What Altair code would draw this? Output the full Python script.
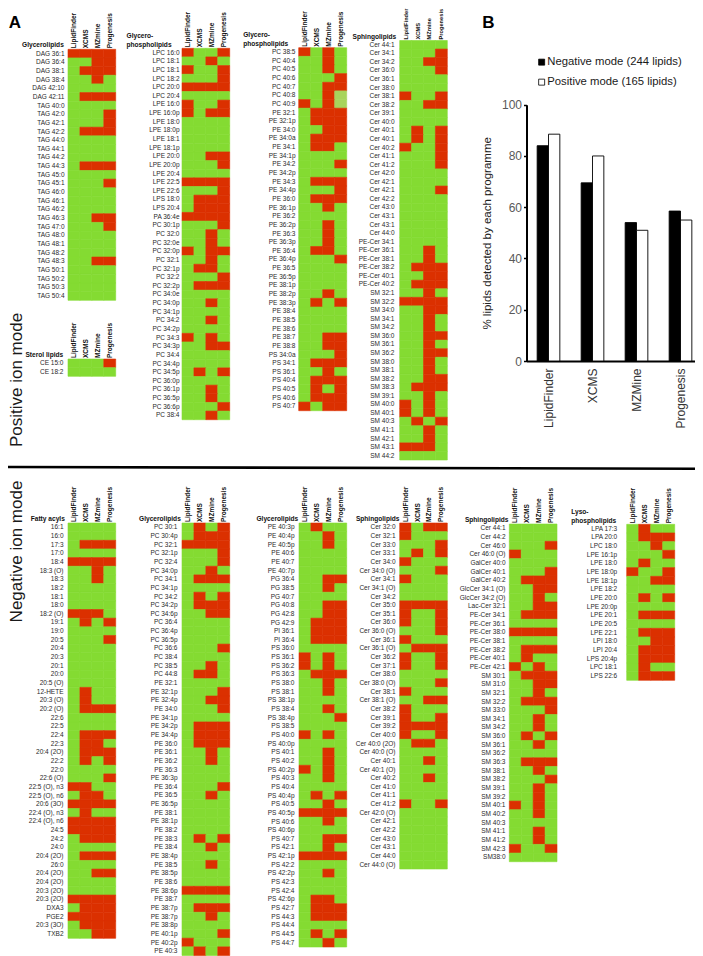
import altair as alt
import pandas as pd

PROGRAMMES = ["LipidFinder", "XCMS", "MZmine", "Progenesis"]
GREEN, RED, PALE = "#84DB32", "#DB3000", "#A8D45C"

glycerolipids_pos = """DAG 36:1=1111;DAG 36:4=0011;DAG 38:1=0111;DAG 38:4=0010;DAG 42:10=0000;DAG 42:11=0111;TAG 40:0=0000;TAG 42:0=0001;TAG 42:1=0001;TAG 42:2=0111;TAG 44:0=0000;TAG 44:1=0000;TAG 44:2=0000;TAG 44:3=0111;TAG 45:0=0000;TAG 45:1=0001;TAG 46:0=0000;TAG 46:1=0000;TAG 46:2=0000;TAG 46:3=0011;TAG 47:0=0001;TAG 48:0=0000;TAG 48:1=0000;TAG 48:2=0000;TAG 48:3=0011;TAG 50:1=0000;TAG 50:2=0000;TAG 50:3=0000;TAG 50:4=0000"""
sterol_pos = """CE  15:0=0001;CE  18:2=0000"""
phospho_pos_a = """LPC 16:0=1001;LPC 18:1=0010;LPC 18:1=1001;LPC 18:2=0001;LPC 20:0=1111;LPC 20:4=0000;LPE 16:0=1001;LPE 16:0p=1011;LPE 18:0=0000;LPE 18:0p=0000;LPE 18:1=0000;LPE 18:1p=0000;LPE 20:0=0011;LPE 20:0p=0001;LPE 20:4=0000;LPE 22:5=1111;LPE 22:6=0001;LPS 18:0=0111;LPS 20:4=0111;PA 36:4e=1111;PC 30:1p=0001;PC 32:0=0010;PC 32:0e=0010;PC 32:0p=1011;PC 32:1=0010;PC 32:1p=0110;PC 32:2=0001;PC 32:2p=0111;PC 34:0e=0000;PC 34:0p=0010;PC 34:1p=0000;PC 34:2=0010;PC 34:2p=0000;PC 34:3=1010;PC 34:3p=0011;PC 34:4=0000;PC 34:4p=0000;PC 34:5p=0101;PC 36:0p=0000;PC 36:1p=0010;PC 36:5p=0010;PC 36:6p=0001;PC 38:4=0010"""
phospho_pos_b = """PC 38:5=1010;PC 40:4=0010;PC 40:5=0010;PC 40:6=0001;PC 40:7=0011;PC 40:8=0012;PC 40:9=1012;PE 32:1=0111;PE 32:1p=0111;PE 34:0=0011;PE 34:0a=0111;PE 34:1=0110;PE 34:1p=0000;PE 34:2=0001;PE 34:2p=0000;PE 34:3=0111;PE 34:4p=0001;PE 36:0=0111;PE 36:1p=0010;PE 36:2=0000;PE 36:2p=0010;PE 36:3=0010;PE 36:3p=0010;PE 36:4=0110;PE 36:4p=0001;PE 36:5=0000;PE 36:5p=0000;PE 38:1p=0000;PE 38:2p=0010;PE 38:3p=0101;PE 38:4=0000;PE 38:5=0000;PE 38:6=0000;PE 38:7=0011;PE 38:8=0011;PS 34:0a=0001;PS 34:1=0111;PS 36:1=0010;PS 40:4=0111;PS 40:5=0101;PS 40:6=0111;PS 40:7=1011"""
sphingo_pos = """Cer 44:1=0000;Cer 34:1=0001;Cer 34:2=0011;Cer 36:0=0001;Cer 36:1=0000;Cer 38:0=0000;Cer 38:1=1001;Cer 38:2=0011;Cer 39:1=0000;Cer 40:0=0000;Cer 40:1=0101;Cer 40:1=0101;Cer 40:2=1001;Cer 41:1=0001;Cer 41:2=0001;Cer 42:0=0000;Cer 42:1=0000;Cer 42:1=0001;Cer 42:2=0000;Cer 43:0=0000;Cer 43:1=0000;Cer 43:1=0000;Cer 44:0=0000;PE-Cer 34:1=0000;PE-Cer 36:1=0010;PE-Cer 38:1=0010;PE-Cer 38:2=0111;PE-Cer 40:1=0011;PE-Cer 40:2=0111;SM 32:1=0010;SM 32:2=1111;SM 34:0=0011;SM 34:1=0010;SM 34:2=0010;SM 36:0=0011;SM 36:1=0010;SM 36:2=0011;SM 38:0=0010;SM 38:1=0010;SM 38:2=0011;SM 38:3=0111;SM 39:1=0010;SM 40:0=1010;SM 40:1=1010;SM 40:3=0101;SM 41:1=0010;SM 42:1=0010;SM 43:1=1110;SM 44:2=0000"""
fatty_neg = """16:1=0000;16:0=0000;17:3=0111;17:0=0000;18:4=1111;18:3 (O)=0010;18:3=0010;18:2=0000;18:1=0000;18:0=0000;18:2 (O)=1110;19:1=0101;19:0=0000;20:5=0001;20:4=0000;20:3=0000;20:1=0000;20:0=0000;20:5 (O)=0000;12-HETE=0100;20:3 (O)=0100;20:2 (O)=0111;22:6=0000;22:5=0000;22:4=0111;22:3=0110;20:4 (2O)=0111;22:2=0101;22:0=0000;22:6 (O)=0001;22:5 (O), n3=1100;22:5 (O), n6=0110;20:6 (3O)=1111;22:4 (O), n3=0100;22:4 (O), n6=1111;24:5=1111;24:2=0111;24:0=0000;20:4 (2O)=0111;26:0=0000;20:4 (2O)=0011;20:4 (2O)=0000;20:3 (2O)=0000;20:3 (2O)=1111;DXA3=0111;PGE2=1111;20:3 (3O)=0111;TXB2=0011"""
glycero_neg_a = """PC 30:1=0101;PC 30:4p=0111;PC 32:1=1111;PC 32:1p=0001;PC 32:4=0001;PC 34:0p=0010;PC 34:1=0111;PC 34:1p=0000;PC 34:2=0101;PC 34:2p=0111;PC 34:6p=0011;PC 36:4=0000;PC 36:4p=0000;PC 36:5p=0000;PC 36:6=0001;PC 38:4=0000;PC 38:5=0010;PC 44:8=0110;PE 32:1=0000;PE 32:1p=0001;PE 32:4p=0011;PE 34:0=0001;PE 34:1p=0000;PE 34:2p=0111;PE 34:4p=0111;PE 36:0=0111;PE 36:1=0010;PE 36:2=0010;PE 36:3=0000;PE 36:3p=0000;PE 36:4=0001;PE 36:5=0010;PE 36:5p=0000;PE 38:1=0000;PE 38:1p=0000;PE 38:2=0000;PE 38:3=0101;PE 38:4=0010;PE 38:4p=0000;PE 38:5=0010;PE 38:5p=0000;PE 38:6=0000;PE 38:6p=1111;PE 38:7=0000;PE 38:7p=0111;PE 38:7p=0010;PE 38:8p=0000;PE 40:1p=0001;PE 40:2p=1000;PE 40:3=0101"""
glycero_neg_b = """PE 40:3p=0100;PE 40:4p=0010;PE 40:5p=0010;PE 40:6=0000;PE 40:7=0000;PE 40:7p=0000;PG 36:4=0011;PG 38:5=0010;PG 40:7=0000;PG 40:8=0011;PG 42:8=0011;PG 42:9=0111;PI 36:1=0111;PI 36:4=0111;PS 36:0=0000;PS 36:1=1010;PS 36:2=1010;PS 36:3=0111;PS 38:0=0010;PS 38:1=0010;PS 38:1p=0000;PS 38:4=0010;PS 38:4p=0001;PS 38:5=0000;PS 40:0=1010;PS 40:0p=0000;PS 40:1=0010;PS 40:2=0010;PS 40:2p=1010;PS 40:3=0010;PS 40:4=0000;PS 40:4p=0101;PS 40:5=0010;PS 40:5p=1111;PS 40:6=0010;PS 40:6p=0000;PS 40:7=0011;PS 42:1=0010;PS 42:1p=1111;PS 42:2=0000;PS 42:2p=0010;PS 42:3=0000;PS 42:4=0000;PS 42:6p=0110;PS 42:7=0111;PS 44:3=0111;PS 44:4=0000;PS 44:5=0101;PS 44:7=0010"""
sphingo_neg_a = """Cer 32:0=1011;Cer 32:1=1000;Cer 33:0=0001;Cer 33:1=0101;Cer 34:0=1000;Cer 34:0 (O)=0001;Cer 34:1=1000;Cer 34:1 (O)=0000;Cer 34:2=0000;Cer 35:0=1111;Cer 35:1=1001;Cer 36:0=1001;Cer 36:0 (O)=0001;Cer 36:1=1000;Cer 36:1 (O)=0111;Cer 36:2=1001;Cer 37:1=1001;Cer 38:0=0000;Cer 38:0 (O)=0001;Cer 38:1=1000;Cer 38:1 (O)=0011;Cer 38:2=1000;Cer 39:1=1001;Cer 39:2=1111;Cer 40:0=1001;Cer 40:0 (2O)=0110;Cer 40:0 (O)=0000;Cer 40:1=0010;Cer 40:1 (O)=0000;Cer 40:2=0010;Cer 41:0=0000;Cer 41:1=0000;Cer 41:2=1001;Cer 42:0 (O)=0000;Cer 42:1=0000;Cer 42:2=0000;Cer 43:0=0000;Cer 43:1=0000;Cer 44:0=0000;Cer 44:0 (O)=0000"""
sphingo_neg_b = """Cer 44:1=0000;Cer 44:2=0000;Cer 46:0=0001;Cer 46:0 (O)=1000;GalCer 40:0=0000;GalCer 40:1=0001;GalCer 40:2=0111;GlcCer 34:1 (O)=0011;GlcCer 34:2 (O)=0010;Lac-Cer 32:1=0011;PE-Cer 34:1=0111;PE-Cer 36:1=0000;PE-Cer 38:0=1111;PE-Cer 38:1=0000;PE-Cer 38:2=0111;PE-Cer 40:1=0100;PE-Cer 42:1=1010;SM 30:1=0111;SM 31:0=0011;SM 32:1=0010;SM 32:2=0111;SM 33:0=0001;SM 34:1=0010;SM 34:2=0010;SM 36:0=0101;SM 36:1=0010;SM 36:2=0000;SM 36:3=0111;SM 38:1=0010;SM 38:2=0001;SM 39:1=0010;SM 39:2=0010;SM 40:1=1010;SM 40:2=0010;SM 40:3=0000;SM 41:1=0010;SM 41:2=0010;SM 42:3=1001;SM38:0=0000"""
lyso_neg = """LPA 17:3=0100;LPA 20:0=0111;LPC 18:0=0010;LPE 16:1p=0001;LPE 18:0=0100;LPE 18:0p=1001;LPE 18:1p=0011;LPE 18:2=0000;LPE 20:0=0101;LPE 20:0p=0000;LPE 20:1=0111;LPE 20:5=0000;LPE 22:1=0111;LPI 18:0=0011;LPI 20:4=0111;LPS 20:4p=0111;LPC 18:1=0100;LPS 22:6=0111"""

bar_programmes = ["LipidFinder", "XCMS", "MZMine", "Progenesis"]
bar_modes = ["Negative mode (244 lipids)", "Positive mode (165 lipids)"]
negative_pct = [84, 69.5, 54, 58.5]
positive_pct = [88.5, 80, 51, 55]

W, H = 687, 948
M = 8  # page margin: geometry below is given in page pixels


def panel(rows, title, left, right, top, bottom, gap, title_x, title_align="right", title_y=1.5, col_font=6.5):
    recs = []
    items = [r.split("=") for r in rows.split(";")]
    keys = [f"{name}|{i}" for i, (name, _) in enumerate(items)]
    for key, (_, flags) in zip(keys, items):
        for prog, flag in zip(PROGRAMMES, flags):
            recs.append({"lipid": key, "programme": prog, "state": flag})
    state_scale = alt.Scale(domain=["0", "1", "2"], range=[GREEN, RED, PALE])
    return (
        alt.Chart(pd.DataFrame(recs))
        .mark_rect(strokeWidth=0.6)
        .encode(
            x=alt.X(
                "programme:N",
                scale=alt.Scale(domain=PROGRAMMES, range=[left - M, right - M], paddingInner=0, paddingOuter=0, round=False),
                axis=alt.Axis(
                    orient="top", offset=-(top - M), title=None, ticks=False, domain=False, grid=False,
                    labelAngle=270, labelFont="Liberation Sans", labelFontSize=col_font, labelFontWeight="bold",
                    labelColor="#111111", labelPadding=1.5, labelOverlap=False,
                ),
            ),
            y=alt.Y(
                "lipid:N",
                scale=alt.Scale(domain=keys, range=[top - M, bottom - M], paddingInner=0, paddingOuter=0, round=False),
                axis=alt.Axis(
                    orient="left", offset=-(left - M), ticks=False, domain=False, grid=False,
                    labelExpr="split(datum.value, '|')[0]", labelFont="Liberation Sans", labelFontSize=6.5,
                    labelColor="#2a2a2a", labelPadding=gap, labelOverlap=False,
                    title=title, titleAngle=0, titleAlign=title_align, titleBaseline="bottom",
                    titleX=title_x - left, titleY=top - M - title_y, titleLineHeight=8.6,
                    titleFont="Liberation Sans", titleFontSize=6.6, titleFontWeight="bold", titleColor="#111111",
                ),
            ),
            color=alt.Color("state:N", scale=state_scale, legend=None),
            stroke=alt.Stroke("state:N", scale=state_scale, legend=None),
        )
    )


panels = [
    panel(glycerolipids_pos, "Glycerolipids", 68, 115.7, 49.3, 300.3, 4, 63.3),
    panel(sterol_pos, "Sterol lipids", 68, 115.7, 359, 376.3, 5, 62.7),
    panel(phospho_pos_a, ["Glycero-", "phospholipids"], 182, 229.7, 48.3, 419.7, 3, 126, "left", 9.8),
    panel(phospho_pos_b, ["Glycero-", "phospholipids"], 298.7, 346.7, 47.7, 410.7, 3.7, 242.7, "left", 9.8),
    panel(sphingo_pos, "Sphingolipids", 399.7, 447.3, 40.5, 460, 5.7, 395.7, col_font=5.7),
    panel(fatty_neg, "Fatty acyls", 68, 115.7, 523, 938.3, 5, 64.3),
    panel(glycero_neg_a, "Glycerolipids", 182, 229.7, 523, 955.5, 5, 180.3),
    panel(glycero_neg_b, "Glycerolipids", 299, 346.7, 523, 947, 5, 297.7),
    panel(sphingo_neg_a, "Sphingolipids", 399.7, 447.3, 523, 869, 4.7, 399),
    panel(sphingo_neg_b, "Sphingolipids", 509.3, 557, 524, 861.7, 4.3, 508),
    panel(lyso_neg, ["Lyso-", "phospholipids"], 626.7, 674.7, 524.3, 680.3, 10, 570.7, "left", 9.5),
]

bar_df = pd.DataFrame(
    [{"prog": p, "mode": bar_modes[0], "pct": v} for p, v in zip(bar_programmes, negative_pct)]
    + [{"prog": p, "mode": bar_modes[1], "pct": v} for p, v in zip(bar_programmes, positive_pct)]
)
bars = (
    alt.Chart(bar_df)
    .mark_bar(stroke="#000000", strokeWidth=0.9)
    .encode(
        x=alt.X(
            "prog:N", sort=bar_programmes,
            scale=alt.Scale(domain=bar_programmes, range=[526.5 - M, 702.5 - M], paddingInner=0.485, paddingOuter=0.2425, round=False),
            axis=alt.Axis(
                orient="bottom", offset=361 - M - H, title=None, ticks=False, grid=False, labelAngle=270,
                domainColor="#000000", domainWidth=2, labelFont="Liberation Sans", labelFontSize=12,
                labelColor="#333333", labelPadding=7, labelOverlap=False,
            ),
        ),
        xOffset=alt.XOffset("mode:N", scale=alt.Scale(domain=bar_modes, paddingInner=0, paddingOuter=0)),
        y=alt.Y(
            "pct:Q",
            scale=alt.Scale(domain=[0, 100], range=[361 - M, 104.7 - M], nice=False),
            axis=alt.Axis(
                orient="left", offset=-(526.5 - M), values=[0, 20, 40, 60, 80, 100], grid=False,
                domainColor="#000000", domainWidth=2, tickColor="#000000", tickWidth=1.5, tickSize=3,
                labelFont="Liberation Sans", labelFontSize=12, labelColor="#595959", labelPadding=2,
                title="% lipids detected by each programme", titleFont="Liberation Sans", titleFontSize=11.5,
                titleFontWeight="normal", titleColor="#222222", titleX=487 - 526.5, titleBaseline="middle",
            ),
        ),
        color=alt.Color(
            "mode:N",
            scale=alt.Scale(domain=bar_modes, range=["#000000", "#ffffff"]),
            legend=alt.Legend(
                title=None, orient="none", legendX=536 - M, legendY=56.5 - M, symbolType="square", symbolSize=36,
                symbolStrokeColor="#000000", symbolStrokeWidth=0.8, labelFont="Liberation Sans", labelFontSize=11.3,
                labelColor="#1a1a1a", labelOffset=0, rowPadding=8, labelLimit=300,
            ),
        ),
    )
)


def note(text, x, y, size, angle=0, weight="normal", color="#000000"):
    return (
        alt.Chart(pd.DataFrame({"label": [text]}))
        .mark_text(font="Liberation Sans", fontSize=size, fontWeight=weight, angle=angle, align="center",
                   baseline="middle", color=color)
        .encode(x=alt.value(x - M), y=alt.value(y - M), text="label:N")
    )


divider = (
    alt.Chart(pd.DataFrame({"k": [0]}))
    .mark_rule(color="#000000", strokeWidth=2.6)
    .encode(x=alt.value(0), x2=alt.value(698 - M), y=alt.value(467 - M), y2=alt.value(468.7 - M))
)

notes = [
    note("A", 15, 23, 17, weight="bold"),
    note("B", 488.5, 23, 17, weight="bold"),
    note("Positive ion mode", 17, 380, 17, angle=270, color="#1a1a1a"),
    note("Negative ion mode", 17, 551.5, 17, angle=270, color="#1a1a1a"),
]

chart = (
    alt.layer(*panels, bars, divider, *notes)
    .resolve_scale(x="independent", y="independent", color="independent", stroke="independent")
    .properties(width=W, height=H, padding=0, autosize=alt.AutoSizeParams(type="none"))
    .configure_view(stroke=None)
)
chart.save("out.html", embed_options={"renderer": "svg", "actions": False})
